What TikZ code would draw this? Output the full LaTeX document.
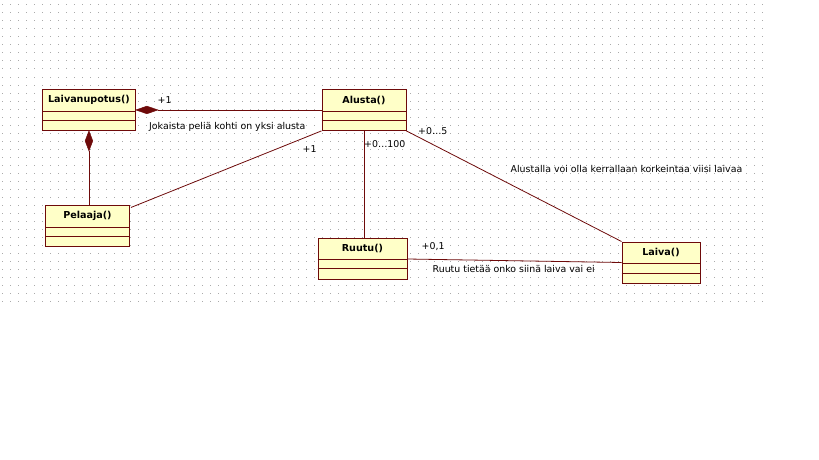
\documentclass[tikz,border=0pt]{standalone}
\usepackage{fontspec}
\setmainfont{DejaVu Sans}
\usetikzlibrary{calc}
\definecolor{umlline}{RGB}{110,10,10}
\definecolor{umlfill}{RGB}{255,255,200}
\definecolor{griddot}{RGB}{170,170,170}
\tikzset{
  classbox/.style={draw=umlline, fill=umlfill, line width=0.9pt, rectangle, anchor=north west, inner sep=0pt},
  classtitle/.style={font=\fontsize{9.6}{11}\selectfont\bfseries, inner sep=0pt, text=black},
  assoc/.style={draw=umlline, line width=0.8pt},
  lbl/.style={font=\fontsize{9.4}{11}\selectfont, inner sep=0pt, anchor=west, text=black},
  compdiamond/.style={fill=umlline, draw=umlline, line width=0.5pt}
}
\newcommand{\umlclass}[6]{% name, x, y, w, h1 (header), text
  \node[classbox, minimum width=#4pt, minimum height=41pt] (#1) at (#2,#3) {};
  \draw[umlline, line width=0.9pt] ($(#1.north west)+(0,#5)$) -- ($(#1.north east)+(0,#5)$);
  \draw[umlline, line width=0.9pt] ($(#1.north west)+(0,#5+9.5)$) -- ($(#1.north east)+(0,#5+9.5)$);
  \node[classtitle] (#1-t) at ($(#1.north)+(0,#5/2)$) {#6};
}
\begin{document}
\begin{tikzpicture}[x=1pt,y=-1pt]
\useasboundingbox (0,0) rectangle (819,460);
\fill[white] (0,0) rectangle (819,460);
% dotted grid
\foreach \i in {0,...,95}{
  \foreach \j in {0,...,37}{
    \fill[griddot] ({2+8*\i-0.5},{5+8*\j-0.5}) rectangle ++(1,1);
  }
}
% classes
\umlclass{lai}{42}{89}{93}{22}{Laivanupotus()}
\umlclass{alu}{321.5}{89}{84}{22}{Alusta()}
\umlclass{pel}{45}{205}{84}{22}{Pelaaja()}
\umlclass{ruu}{317.5}{237.5}{89}{21.5}{Ruutu()}
\umlclass{lva}{621.5}{241.5}{78}{22}{Laiva()}
% connectors
\draw[assoc] ($(lai.east)+(22,0)$) -- (alu.west |- lai.east);
\fill[compdiamond] (lai.east) -- ++(11,-3.8) -- ++(11,3.8) -- ++(-11,3.8) -- cycle;
\draw[assoc] ($(lai.south)+(0,20)$) -- (lai.south |- pel.north);
\fill[compdiamond] (lai.south) -- ++(-3.8,10) -- ++(3.8,10) -- ++(3.8,-10) -- cycle;
\draw[assoc] (alu.south west) -- ($(pel.north east)+(1,2.5)$);
\draw[assoc] (alu.south) -- (alu.south |- ruu.north);
\draw[assoc] (alu.south east) -- (lva.north west);
\draw[assoc] ($(ruu.north east)+(0,21.5)$) -- ($(lva.north west)+(0,21)$);
% labels
\node[lbl] (l1) at (157.5,100.5) {+1};
\node[lbl] (l2) at (149,127) {Jokaista peliä kohti on yksi alusta};
\node[lbl] (l3) at (302.5,149) {+1};
\node[lbl] (l4) at (364,144) {+0…100};
\node[lbl] (l5) at (418,131.5) {+0…5};
\node[lbl] (l6) at (510.5,168.5) {Alustalla voi olla kerrallaan korkeintaa viisi laivaa};
\node[lbl] (l7) at (421.5,247) {+0,1};
\node[lbl] (l8) at (432.5,269) {Ruutu tietää onko siinä laiva vai ei};
\end{tikzpicture}
\end{document}
